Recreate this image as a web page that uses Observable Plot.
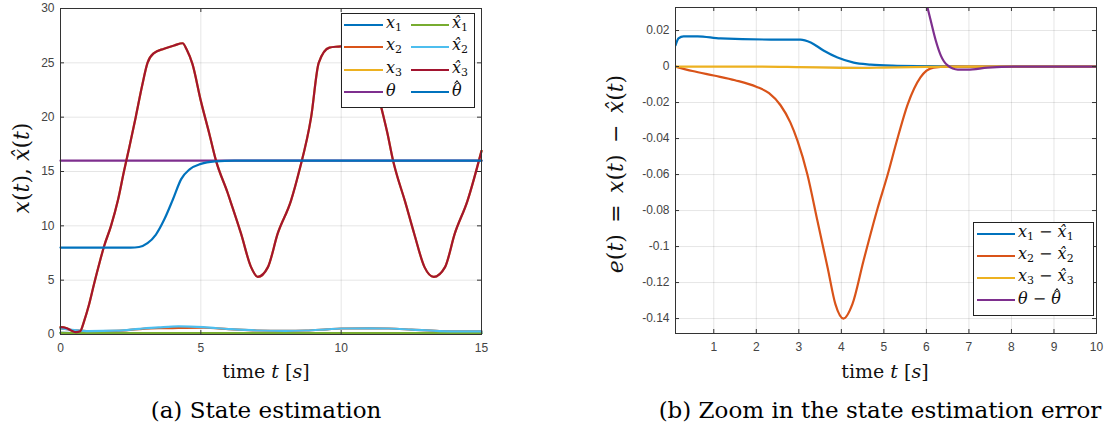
<!DOCTYPE html>
<html><head><meta charset="utf-8">
<script src="https://cdn.jsdelivr.net/npm/d3@7"></script>
<script src="https://cdn.jsdelivr.net/npm/@observablehq/plot@0.6"></script>
<style>
body{margin:0;background:#fff;}
#root{position:relative;width:1113px;height:430px;overflow:hidden;background:#fff;}
#root svg{position:absolute;top:0;}
.lab{position:absolute;font-family:"DejaVu Serif",serif;font-size:19px;color:#111;white-space:nowrap;transform:translate(-50%,-50%);line-height:1;}
.ylab{font-size:22px;transform:translate(-50%,-50%) rotate(-90deg);}
.cap{position:absolute;font-family:"DejaVu Serif",serif;font-size:23px;color:#000;white-space:nowrap;transform:translate(-50%,-50%);line-height:1;}
.legend{position:absolute;background:#fff;border:1px solid #222;box-sizing:border-box;}
.li{position:absolute;height:2px;}
.lt{position:absolute;font-family:"DejaVu Serif",serif;font-size:16px;color:#111;white-space:nowrap;transform:translateY(-55%);line-height:1;}
sub{font-size:11px;vertical-align:-3px;line-height:1;}
.hat{position:relative;display:inline-block;line-height:1;}
.hat::after{content:"";position:absolute;left:55%;top:-0.12em;width:0.2em;height:0.2em;border-left:1.2px solid #111;border-top:1.2px solid #111;transform:translateX(-50%) rotate(45deg);}
</style></head>
<body><div id="root"></div>
<script>
// ---------------- data: panel (a) ----------------
const xTicksA = [0, 5, 10, 15];
const yTicksA = [0, 5, 10, 15, 20, 25, 30];

const tTheta = [0, 15];
const theta = [16, 16];

const tThetaH = [0, 2.5, 2.8, 3.1, 3.4, 3.7, 4.0, 4.3, 4.6, 5.0, 5.5, 6.2, 15];
const thetaH = [8, 8, 8.05, 8.4, 9.2, 10.6, 12.4, 14.3, 15.2, 15.7, 15.93, 16, 16];

const tXh3 = [0, 0.2, 0.4, 0.55, 0.7, 0.85, 1.0, 1.2, 1.4, 1.55, 1.8, 2.05, 2.26, 2.45, 2.68, 2.9, 3.1, 3.33, 3.69, 4.05, 4.35, 4.5, 4.7, 5.0, 5.3, 5.54, 5.96, 6.05, 6.43, 6.79, 7.03, 7.39, 7.74, 8.21, 8.5, 8.93, 9.2, 9.58, 9.9, 10.3, 10.7, 10.85, 11.05, 11.43, 11.65, 11.85, 11.95, 12.27, 12.6, 12.97, 13.3, 13.7, 14.05, 14.5, 15];
const xh3 = [0.67, 0.6, 0.35, 0.22, 0.3, 1.3, 2.6, 4.7, 6.7, 8.1, 10, 12.4, 15, 17.2, 20, 22.8, 25, 25.9, 26.3, 26.6, 26.8, 26.2, 24.9, 21.5, 18.5, 16, 13, 12.3, 9.3, 6.2, 5.3, 6.2, 9.3, 12.3, 15, 20, 25, 26.4, 26.5, 26.6, 26.7, 26.2, 24.9, 20.9, 18.5, 16, 15, 12.3, 9.3, 6.2, 5.3, 6.2, 9.3, 12.3, 16.9];

const tX2 = [0, 0.5, 1, 2, 2.8, 3.5, 4.2, 5.1, 6, 7, 8, 8.75, 9.5, 10, 11, 11.7, 12.5, 13.5, 14.3, 15];
const xh2 = [0.55, 0.4, 0.31, 0.35, 0.52, 0.65, 0.74, 0.67, 0.5, 0.37, 0.34, 0.37, 0.48, 0.55, 0.57, 0.55, 0.45, 0.31, 0.28, 0.28];
const x2 = [0.55, 0.39, 0.3, 0.33, 0.49, 0.58, 0.6, 0.62, 0.5, 0.37, 0.34, 0.37, 0.48, 0.55, 0.57, 0.55, 0.45, 0.31, 0.28, 0.28];

const tX1 = [0, 1, 5, 10, 15];
const xh1 = [0.15, 0.12, 0.12, 0.12, 0.12];
const x1 = [0.16, 0.135, 0.125, 0.12, 0.12];

// ---------------- data: panel (b) ----------------
const xTicksB = [1, 2, 3, 4, 5, 6, 7, 8, 9, 10];
const yTicksB = [-0.14, -0.12, -0.1, -0.08, -0.06, -0.04, -0.02, 0, 0.02];

const tE1 = [0.1, 0.17, 0.29, 0.62, 1.16, 2.34, 3.04, 3.28, 3.58, 3.91, 4.29, 4.69, 5.2, 6, 7, 10];
const e1 = [0.0117, 0.0156, 0.0168, 0.0168, 0.0156, 0.015, 0.015, 0.0134, 0.0089, 0.005, 0.0022, 0.0011, 0.0005, 0.0002, 0, 0];

const tE2 = [0.1, 0.5, 1.0, 1.5, 2.0, 2.3, 2.57, 2.8, 2.97, 3.2, 3.44, 3.68, 3.86, 4.05, 4.26, 4.52, 4.85, 5.09, 5.32, 5.56, 5.86, 6.17, 6.5, 7, 10];
const e2 = [0, -0.0025, -0.005, -0.0076, -0.0112, -0.0148, -0.0215, -0.031, -0.0413, -0.0598, -0.086, -0.112, -0.132, -0.140, -0.132, -0.108, -0.079, -0.060, -0.040, -0.021, -0.006, -0.0006, 0, 0, 0];

const tE3 = [0.1, 2, 3, 4, 4.5, 5, 6, 7, 10];
const e3 = [0, 0, -0.0003, -0.0007, -0.0008, -0.0006, -0.0002, 0, 0];

const tETh = [5.9, 6.03, 6.1, 6.22, 6.34, 6.5, 6.74, 6.97, 7.44, 8.05, 10];
const eTh = [0.045, 0.0324, 0.0257, 0.0145, 0.0061, 0.0006, -0.0017, -0.0017, -0.0006, 0, 0];

const C = {blue: "#0072BD", orange: "#D95319", yellow: "#EDB120", purple: "#7E2F8E", green: "#77AC30", cyan: "#4DBEEE", red: "#A2142F"};

// ---------------- helpers ----------------
const zip = (t, v) => t.map((d, i) => ({t: d, v: v[i]}));
const ln = (t, v, color, clip) => Plot.line(zip(t, v), {x: "t", y: "v", stroke: color, strokeWidth: 2.2, curve: "monotone-x", clip: !!clip});
const axColor = "#333";
function chrome(xT, yT, fw, fh) {
  return [
    Plot.frame({stroke: axColor, strokeWidth: 1}),
    Plot.tickX(xT, {x: d => d, insetTop: fh - 4, stroke: axColor}),
    Plot.tickX(xT, {x: d => d, insetBottom: fh - 4, stroke: axColor}),
    Plot.tickY(yT, {y: d => d, insetRight: fw - 4, stroke: axColor}),
    Plot.tickY(yT, {y: d => d, insetLeft: fw - 4, stroke: axColor}),
    Plot.axisX({ticks: xT, tickSize: 0, tickPadding: 9, tickFormat: d => String(d), label: null}),
    Plot.axisY({ticks: yT, tickSize: 0, tickPadding: 6, tickFormat: d => String(d), label: null})
  ];
}
const style = {fontFamily: "'Liberation Sans', Arial, sans-serif", fontSize: "12px", color: "#444", background: "transparent", overflow: "visible"};

// ---------------- panel (a) ----------------
const A = Plot.plot({
  width: 560, height: 390, marginLeft: 60, marginRight: 79, marginTop: 8, marginBottom: 56,
  x: {domain: [0, 15]}, y: {domain: [0, 30]}, style,
  marks: [
    Plot.gridX(xTicksA, {stroke: "#000", strokeOpacity: 0.1}),
    Plot.gridY(yTicksA, {stroke: "#000", strokeOpacity: 0.1}),
    ln(tX1, x1, C.blue), ln(tX2, x2, C.orange), ln(tXh3, xh3, C.yellow), ln(tTheta, theta, C.purple),
    ln(tX1, xh1, C.green), ln(tX2, xh2, C.cyan), ln(tXh3, xh3, C.red), ln(tThetaH, thetaH, C.blue),
    ...chrome(xTicksA, yTicksA, 421, 326)
  ]
});
A.style.left = "0px";

// ---------------- panel (b) ----------------
const B = Plot.plot({
  width: 513, height: 390, marginLeft: 75, marginRight: 17, marginTop: 7, marginBottom: 57,
  x: {domain: [0.1, 10]}, y: {domain: [-0.1483, 0.0328]}, style,
  marks: [
    Plot.gridX(xTicksB, {stroke: "#000", strokeOpacity: 0.1}),
    Plot.gridY(yTicksB, {stroke: "#000", strokeOpacity: 0.1}),
    ln(tE1, e1, C.blue, true), ln(tE2, e2, C.orange, true), ln(tE3, e3, C.yellow, true), ln(tETh, eTh, C.purple, true),
    ...chrome(xTicksB, yTicksB, 421, 326)
  ]
});
B.style.left = "600px";

const root = document.getElementById("root");
root.appendChild(A);
root.appendChild(B);

// ---------------- text & legends ----------------
function add(html, cls, x, y) {
  const d = document.createElement("div");
  d.className = cls; d.innerHTML = html;
  d.style.left = x + "px"; d.style.top = y + "px";
  root.appendChild(d);
}
const hx = i => `<i>x&#770;</i><sub>${i}</sub>`;
const vx = i => `<i>x</i><sub>${i}</sub>`;
const thh = `<span class="hat"><i>θ</i></span>`;
add("time <i>t</i> [<i>s</i>]", "lab", 266, 371);
add("time <i>t</i> [<i>s</i>]", "lab", 885, 371);
add("<i>x</i>(<i>t</i>), <i>x&#770;</i>(<i>t</i>)", "lab ylab", 22, 168);
add("<i>e</i>(<i>t</i>)&nbsp;&thinsp;=&nbsp;&thinsp;<i>x</i>(<i>t</i>)&nbsp;&thinsp;&#8722;&nbsp;&thinsp;<i>x&#770;</i>(<i>t</i>)", "lab ylab", 616, 174);
add("(a) State estimation", "cap", 266, 410);
add("(b) Zoom in the state estimation error", "cap", 880, 410);

function legend(box, items) {
  const L = document.createElement("div");
  L.className = "legend";
  Object.assign(L.style, {left: box[0] + "px", top: box[1] + "px", width: box[2] + "px", height: box[3] + "px"});
  root.appendChild(L);
  for (const it of items) {
    const l = document.createElement("div");
    l.className = "li";
    Object.assign(l.style, {left: it.x + "px", top: (it.y - 1) + "px", width: it.w + "px", background: it.c});
    root.appendChild(l);
    add(it.label, "lt", it.x + it.w + 3, it.y);
  }
}
const rowsA = [25, 47, 70, 92];
legend([341, 13, 134, 95], [
  {x: 344, y: rowsA[0], w: 39, c: C.blue, label: vx(1)},
  {x: 344, y: rowsA[1], w: 39, c: C.orange, label: vx(2)},
  {x: 344, y: rowsA[2], w: 39, c: C.yellow, label: vx(3)},
  {x: 344, y: rowsA[3], w: 39, c: C.purple, label: "<i>θ</i>"},
  {x: 411, y: rowsA[0], w: 38, c: C.green, label: hx(1)},
  {x: 411, y: rowsA[1], w: 38, c: C.cyan, label: hx(2)},
  {x: 411, y: rowsA[2], w: 38, c: C.red, label: hx(3)},
  {x: 411, y: rowsA[3], w: 38, c: C.blue, label: thh}
]);
const rowsB = [234, 256, 278, 300];
legend([973, 222, 121, 94], [
  {x: 977, y: rowsB[0], w: 38, c: C.blue, label: vx(1) + " &#8722; " + hx(1)},
  {x: 977, y: rowsB[1], w: 38, c: C.orange, label: vx(2) + " &#8722; " + hx(2)},
  {x: 977, y: rowsB[2], w: 38, c: C.yellow, label: vx(3) + " &#8722; " + hx(3)},
  {x: 977, y: rowsB[3], w: 38, c: C.purple, label: "<i>θ</i> &#8722; " + thh}
]);
</script></body></html>
